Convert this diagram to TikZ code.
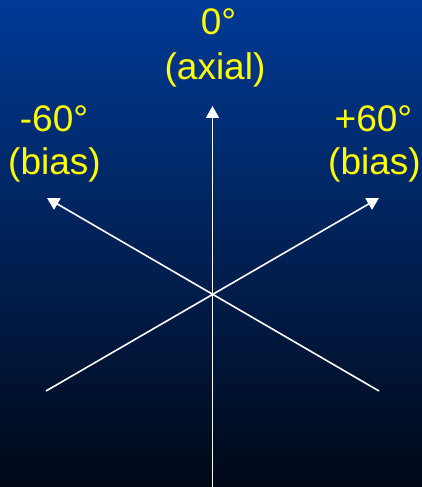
\documentclass[tikz,border=0pt]{standalone}
\usepackage{fontspec}
\setmainfont{Liberation Sans}
\usetikzlibrary{arrows.meta}
\definecolor{bgtop}{RGB}{0,58,150}
\definecolor{bgbot}{RGB}{0,8,22}
\definecolor{lbl}{RGB}{255,255,0}
\tikzset{
  axisline/.style={draw=white, line width=1.6pt},
  arrowed/.style={axisline, -{Triangle[width=13pt,length=12pt]}},
  lbltext/.style={text=lbl, font=\fontsize{37}{44}\selectfont, anchor=base, inner sep=0pt}
}
\begin{document}
\begin{tikzpicture}[x=1pt,y=1pt]
\shade[top color=bgtop, bottom color=bgbot] (0,0) rectangle (422,487);
\useasboundingbox (0,0) rectangle (422,487);
\coordinate (c) at (212.5,194);
\coordinate (vtop) at (212.5,381);
\coordinate (vbot) at (212.5,0);
\coordinate (ultip) at (47,289);
\coordinate (lrend) at (379,96);
\coordinate (urtip) at (379,289);
\coordinate (llend) at (46,96);
\draw[arrowed] (vbot) -- (vtop);
\draw[arrowed] (lrend) -- (ultip);
\draw[arrowed] (llend) -- (urtip);
\node[lbltext] (zero) at (218.5,452) {0°};
\node[lbltext] (axial) at (215,407) {(axial)};
\node[lbltext] (m60) at (54,355) {-60°};
\node[lbltext] (mbias) at (54.5,312) {(bias)};
\node[lbltext] (p60) at (373.5,355) {+60°};
\node[lbltext] (pbias) at (374.5,312) {(bias)};
\end{tikzpicture}
\end{document}
